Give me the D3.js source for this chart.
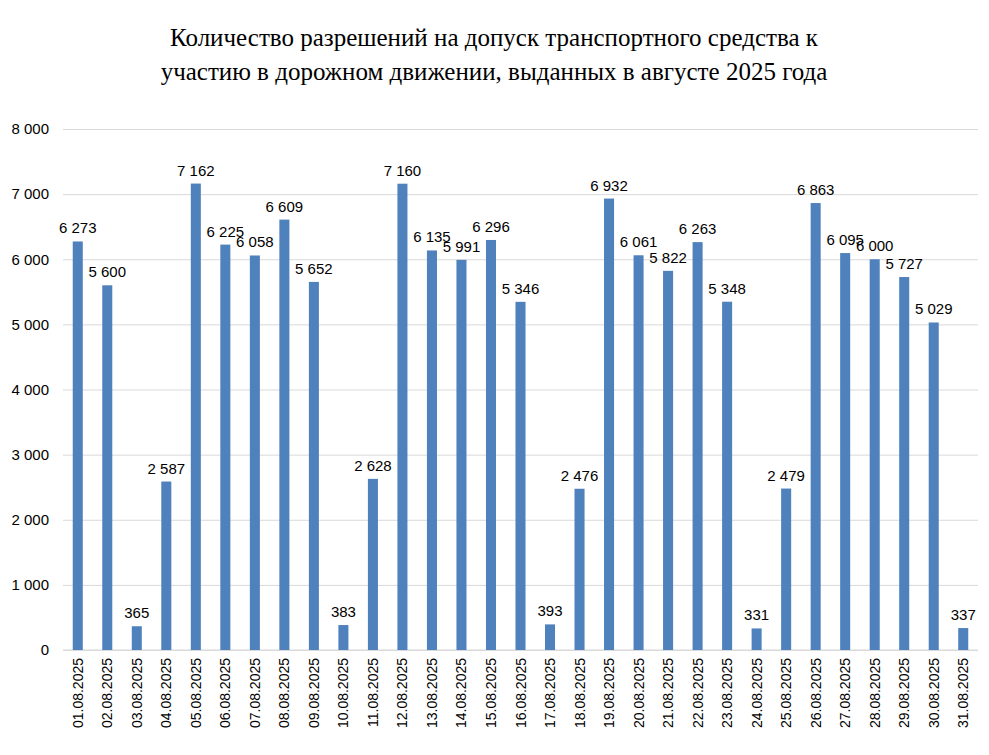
<!DOCTYPE html>
<html><head><meta charset="utf-8">
<script src="https://cdn.jsdelivr.net/npm/d3@7"></script>
<style>body{margin:0;background:#fff}</style>
</head><body>
<svg id="c" width="989" height="755"></svg>
<script>
const days = d3.range(1, 32).map(d => String(d).padStart(2, '0') + '.08.2025');
const values = [6273,5600,365,2587,7162,6225,6058,6609,5652,383,2628,7160,6135,5991,6296,5346,393,2476,6932,6061,5822,6263,5348,331,2479,6863,6095,6000,5727,5029,337];
const yTicks = [0,1000,2000,3000,4000,5000,6000,7000,8000];
const titleLines = ['Количество разрешений на допуск транспортного средства к', 'участию в дорожном движении, выданных в августе 2025 года'];

const svg = d3.select('#c');
const fmt = v => d3.format(',')(v).replace(/,/g, ' ');
const mLeft = 63, mRight = 978, mTop = 129, mBottom = 650;

const x = d3.scaleBand().domain(days).range([mLeft, mRight]).paddingInner(0.66).paddingOuter(0.33);
const y = d3.scaleLinear().domain([0, 8000]).range([mBottom, mTop]);

svg.selectAll('.title').data(titleLines).enter().append('text')
  .attr('x', 494).attr('y', (d, i) => 46 + i * 34)
  .attr('text-anchor', 'middle')
  .style('font-family', 'Liberation Serif, Times New Roman, serif')
  .style('font-size', '25px')
  .text(d => d);

const ya = svg.append('g').attr('transform', `translate(${mLeft},0)`)
  .call(d3.axisLeft(y).tickValues(yTicks).tickSize(-(mRight - mLeft)).tickFormat(fmt).tickPadding(14));
ya.select('.domain').remove();
ya.selectAll('line').attr('stroke', '#d9d9d9');
ya.selectAll('text').style('font-family', 'Liberation Sans, Arial, sans-serif').style('font-size', '15px').attr('fill', '#000');

svg.append('line').attr('x1', mLeft).attr('x2', mRight).attr('y1', mBottom).attr('y2', mBottom).attr('stroke', '#d9d9d9');

svg.selectAll('.bar').data(values).enter().append('rect')
  .attr('x', (d, i) => x(days[i])).attr('width', x.bandwidth())
  .attr('y', d => y(d)).attr('height', d => mBottom - y(d))
  .attr('fill', '#4f81bd');

svg.selectAll('.lbl').data(values).enter().append('text')
  .attr('x', (d, i) => x(days[i]) + x.bandwidth() / 2)
  .attr('y', d => y(d) - 8)
  .attr('text-anchor', 'middle')
  .style('font-family', 'Liberation Sans, Arial, sans-serif').style('font-size', '15px')
  .text(fmt);

svg.selectAll('.xl').data(days).enter().append('text')
  .attr('transform', d => `translate(${x(d) + x.bandwidth() / 2 + 5},${mBottom + 8}) rotate(-90)`)
  .attr('text-anchor', 'end')
  .style('font-family', 'Liberation Sans, Arial, sans-serif').style('font-size', '14px')
  .text(d => d);
</script>
</body></html>
